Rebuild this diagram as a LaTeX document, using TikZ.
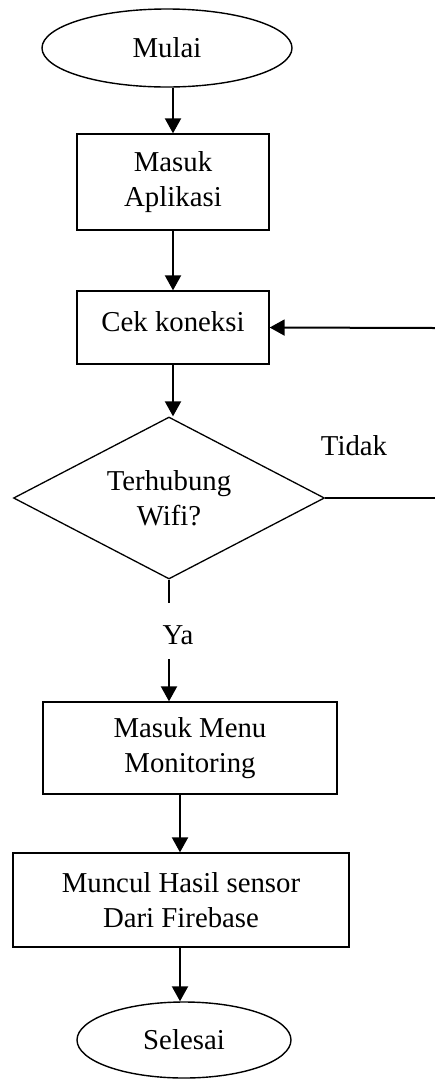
\documentclass[tikz,border=0pt]{standalone}
\usepackage{fontspec}
\setmainfont{Liberation Serif}
\usetikzlibrary{shapes.geometric,arrows.meta}
\begin{document}
\begin{tikzpicture}[x=1pt,y=-1pt,
  every node/.style={font=\fontsize{28.8}{35}\selectfont, align=center, inner sep=0pt},
  terminal/.style={ellipse, draw, line width=1.4pt},
  process/.style={rectangle, draw, line width=1.3pt},
  decision/.style={diamond, draw, line width=1.3pt, shape aspect=1.92},
  flow/.style={line width=2pt, -{Triangle[width=16pt,length=15pt]}},
  plain/.style={line width=2pt}]
\useasboundingbox (0,0) rectangle (435,1080);

% shapes
\node[terminal, minimum width=250pt, minimum height=78pt] (mulai) at (167,48) {Mulai};
\node[process, minimum width=192pt, minimum height=96pt] (app) at (173,182) {Masuk\\Aplikasi};
\node[process, minimum width=192pt, minimum height=73pt] (cek) at (173,327.5) {\raisebox{6pt}[\height][\depth]{Cek koneksi}};
\node[decision, minimum width=311pt, minimum height=162pt] (dec) at (169,498) {Terhubung\\Wifi?};
\node[process, minimum width=294pt, minimum height=92pt] (menu) at (190,748) {Masuk Menu\\Monitoring};
\node[process, minimum width=336pt, minimum height=94pt] (hasil) at (181,900) {Muncul Hasil sensor\\Dari Firebase};
\node[terminal, minimum width=214pt, minimum height=76pt] (selesai) at (184,1040) {Selesai};

% branch labels
\node (tidak) at (354,446) {Tidak};
\node (ya) at (178,635) {Ya};

% helper points
\coordinate (ya1) at (169,603);
\coordinate (ya2) at (169,659);
\coordinate (rt1) at (435,498);
\coordinate (rt2) at (435,328);

% connectors
\draw[flow] (app.north |- mulai.south) -- (app.north);
\draw[flow] (app.south) -- (cek.north);
\draw[flow] (cek.south) -- (cek.south |- dec.north);
\draw[plain] (dec.south) -- (ya1);
\draw[flow] (ya2) -- (ya2 |- menu.north);
\draw[flow] ([xshift=-10pt]menu.south) -- ([xshift=-10pt]menu.south |- hasil.north);
\draw[flow] ([xshift=-1pt]hasil.south) -- ([xshift=-1pt]hasil.south |- selesai.north);
\draw[plain] (dec.east) -- (rt1);
\draw[flow] (rt2) -- (cek.east);
\end{tikzpicture}
\end{document}
